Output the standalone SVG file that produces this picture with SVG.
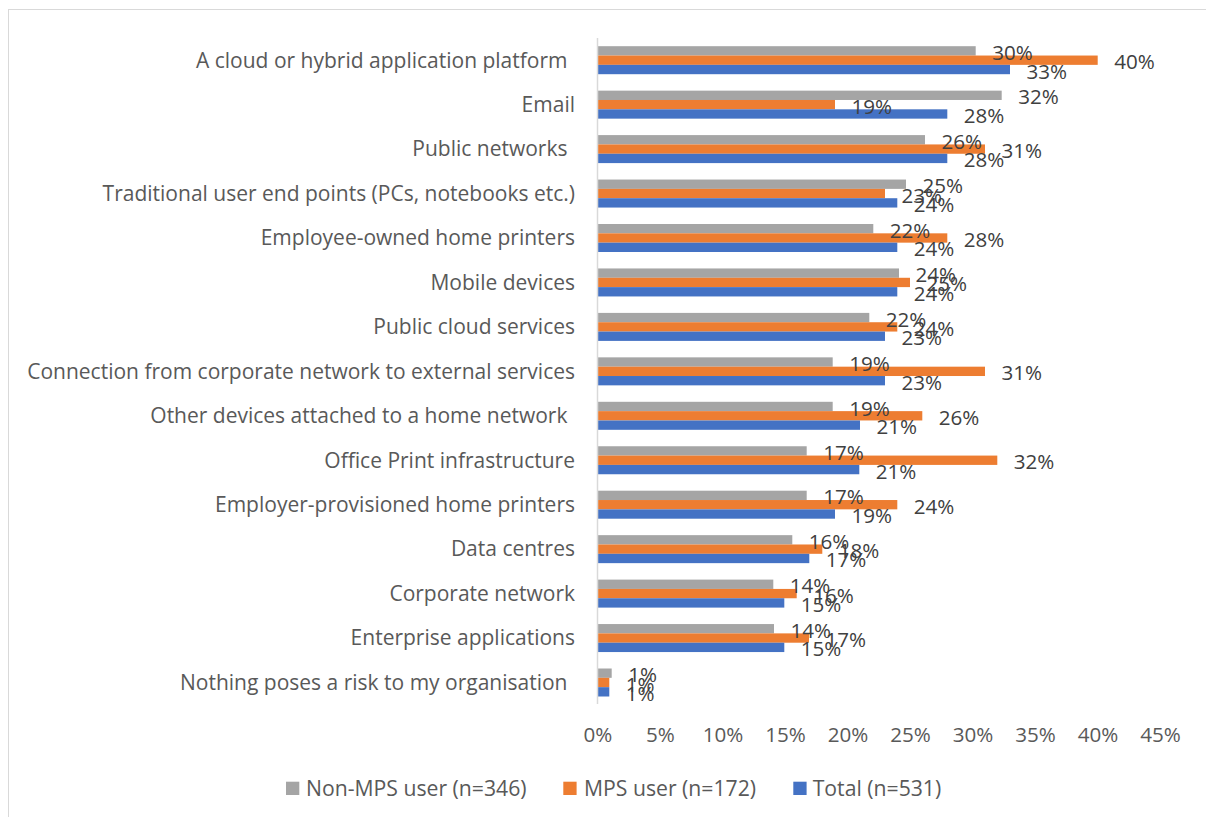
<svg xmlns="http://www.w3.org/2000/svg" width="1206" height="817" viewBox="0 0 1206 817">
<style>
text{font-family:"Open Sans","Liberation Sans",sans-serif}
.cat{font-size:21px;fill:#595959;text-anchor:end}
.tick{font-size:20.6px;fill:#595959;text-anchor:middle}
.dl{font-size:20.6px;fill:#404040}
.leg{font-size:21.2px;fill:#595959}
.g{fill:#A5A5A5}
.o{fill:#ED7D31}
.b{fill:#4472C4}
</style>
<rect x="8.5" y="9.5" width="1220" height="830" fill="#ffffff" stroke="#d9d9d9" stroke-width="1"/>
<g id="ticks">
<text class="tick" x="598" y="741.7">0%</text>
<text class="tick" x="660.5" y="741.7">5%</text>
<text class="tick" x="723" y="741.7">10%</text>
<text class="tick" x="785.5" y="741.7">15%</text>
<text class="tick" x="848" y="741.7">20%</text>
<text class="tick" x="910.5" y="741.7">25%</text>
<text class="tick" x="973" y="741.7">30%</text>
<text class="tick" x="1035.5" y="741.7">35%</text>
<text class="tick" x="1098" y="741.7">40%</text>
<text class="tick" x="1160.5" y="741.7">45%</text>
</g>
<g id="row1" transform="translate(0,60.2)">
<text class="cat" x="567.5" y="7.3">A cloud or hybrid application platform</text>
<rect class="g" x="598" y="-14" width="377.7" height="9.33"/>
<rect class="o" x="598" y="-4.67" width="499.7" height="9.33"/>
<rect class="b" x="598" y="4.67" width="412" height="9.33"/>
<text class="dl" x="992.2" y="-0.3">30%</text>
<text class="dl" x="1114.2" y="9">40%</text>
<text class="dl" x="1026.5" y="18.3">33%</text>
</g>
<g id="row2" transform="translate(0,104.65)">
<text class="cat" x="575" y="7.3">Email</text>
<rect class="g" x="598" y="-14" width="403.7" height="9.33"/>
<rect class="o" x="598" y="-4.67" width="237" height="9.33"/>
<rect class="b" x="598" y="4.67" width="349.3" height="9.33"/>
<text class="dl" x="1018.2" y="-0.3">32%</text>
<text class="dl" x="851.5" y="9">19%</text>
<text class="dl" x="963.8" y="18.3">28%</text>
</g>
<g id="row3" transform="translate(0,149.1)">
<text class="cat" x="567.5" y="7.3">Public networks</text>
<rect class="g" x="598" y="-14" width="327" height="9.33"/>
<rect class="o" x="598" y="-4.67" width="387" height="9.33"/>
<rect class="b" x="598" y="4.67" width="349.3" height="9.33"/>
<text class="dl" x="941.5" y="-0.3">26%</text>
<text class="dl" x="1001.5" y="9">31%</text>
<text class="dl" x="963.8" y="18.3">28%</text>
</g>
<g id="row4" transform="translate(0,193.55)">
<text class="cat" x="575" y="7.3">Traditional user end points (PCs, notebooks etc.)</text>
<rect class="g" x="598" y="-14" width="308" height="9.33"/>
<rect class="o" x="598" y="-4.67" width="287" height="9.33"/>
<rect class="b" x="598" y="4.67" width="299.3" height="9.33"/>
<text class="dl" x="922.5" y="-0.3">25%</text>
<text class="dl" x="901.5" y="9">23%</text>
<text class="dl" x="913.8" y="18.3">24%</text>
</g>
<g id="row5" transform="translate(0,238)">
<text class="cat" x="575" y="7.3">Employee-owned home printers</text>
<rect class="g" x="598" y="-14" width="275.3" height="9.33"/>
<rect class="o" x="598" y="-4.67" width="349.3" height="9.33"/>
<rect class="b" x="598" y="4.67" width="299.3" height="9.33"/>
<text class="dl" x="889.8" y="-0.3">22%</text>
<text class="dl" x="963.8" y="9">28%</text>
<text class="dl" x="913.8" y="18.3">24%</text>
</g>
<g id="row6" transform="translate(0,282.45)">
<text class="cat" x="575" y="7.3">Mobile devices</text>
<rect class="g" x="598" y="-14" width="301" height="9.33"/>
<rect class="o" x="598" y="-4.67" width="312" height="9.33"/>
<rect class="b" x="598" y="4.67" width="299.3" height="9.33"/>
<text class="dl" x="915.5" y="-0.3">24%</text>
<text class="dl" x="926.5" y="9">25%</text>
<text class="dl" x="913.8" y="18.3">24%</text>
</g>
<g id="row7" transform="translate(0,326.9)">
<text class="cat" x="575" y="7.3">Public cloud services</text>
<rect class="g" x="598" y="-14" width="271.3" height="9.33"/>
<rect class="o" x="598" y="-4.67" width="299.3" height="9.33"/>
<rect class="b" x="598" y="4.67" width="287" height="9.33"/>
<text class="dl" x="885.8" y="-0.3">22%</text>
<text class="dl" x="913.8" y="9">24%</text>
<text class="dl" x="901.5" y="18.3">23%</text>
</g>
<g id="row8" transform="translate(0,371.35)">
<text class="cat" x="575" y="7.3">Connection from corporate network to external services</text>
<rect class="g" x="598" y="-14" width="234.7" height="9.33"/>
<rect class="o" x="598" y="-4.67" width="387" height="9.33"/>
<rect class="b" x="598" y="4.67" width="287" height="9.33"/>
<text class="dl" x="849.2" y="-0.3">19%</text>
<text class="dl" x="1001.5" y="9">31%</text>
<text class="dl" x="901.5" y="18.3">23%</text>
</g>
<g id="row9" transform="translate(0,415.8)">
<text class="cat" x="567.5" y="7.3">Other devices attached to a home network</text>
<rect class="g" x="598" y="-14" width="234.7" height="9.33"/>
<rect class="o" x="598" y="-4.67" width="324.3" height="9.33"/>
<rect class="b" x="598" y="4.67" width="262" height="9.33"/>
<text class="dl" x="849.2" y="-0.3">19%</text>
<text class="dl" x="938.8" y="9">26%</text>
<text class="dl" x="876.5" y="18.3">21%</text>
</g>
<g id="row10" transform="translate(0,460.25)">
<text class="cat" x="575" y="7.3">Office Print infrastructure</text>
<rect class="g" x="598" y="-14" width="208.7" height="9.33"/>
<rect class="o" x="598" y="-4.67" width="399.3" height="9.33"/>
<rect class="b" x="598" y="4.67" width="261.3" height="9.33"/>
<text class="dl" x="823.2" y="-0.3">17%</text>
<text class="dl" x="1013.8" y="9">32%</text>
<text class="dl" x="875.8" y="18.3">21%</text>
</g>
<g id="row11" transform="translate(0,504.7)">
<text class="cat" x="575" y="7.3">Employer-provisioned home printers</text>
<rect class="g" x="598" y="-14" width="208.7" height="9.33"/>
<rect class="o" x="598" y="-4.67" width="299.3" height="9.33"/>
<rect class="b" x="598" y="4.67" width="237" height="9.33"/>
<text class="dl" x="823.2" y="-0.3">17%</text>
<text class="dl" x="913.8" y="9">24%</text>
<text class="dl" x="851.5" y="18.3">19%</text>
</g>
<g id="row12" transform="translate(0,549.15)">
<text class="cat" x="575" y="7.3">Data centres</text>
<rect class="g" x="598" y="-14" width="194.3" height="9.33"/>
<rect class="o" x="598" y="-4.67" width="224.3" height="9.33"/>
<rect class="b" x="598" y="4.67" width="211.3" height="9.33"/>
<text class="dl" x="808.8" y="-0.3">16%</text>
<text class="dl" x="838.8" y="9">18%</text>
<text class="dl" x="825.8" y="18.3">17%</text>
</g>
<g id="row13" transform="translate(0,593.6)">
<text class="cat" x="575" y="7.3">Corporate network</text>
<rect class="g" x="598" y="-14" width="175.3" height="9.33"/>
<rect class="o" x="598" y="-4.67" width="198.7" height="9.33"/>
<rect class="b" x="598" y="4.67" width="186.3" height="9.33"/>
<text class="dl" x="789.8" y="-0.3">14%</text>
<text class="dl" x="813.2" y="9">16%</text>
<text class="dl" x="800.8" y="18.3">15%</text>
</g>
<g id="row14" transform="translate(0,638.05)">
<text class="cat" x="575" y="7.3">Enterprise applications</text>
<rect class="g" x="598" y="-14" width="176" height="9.33"/>
<rect class="o" x="598" y="-4.67" width="211" height="9.33"/>
<rect class="b" x="598" y="4.67" width="186.3" height="9.33"/>
<text class="dl" x="790.5" y="-0.3">14%</text>
<text class="dl" x="825.5" y="9">17%</text>
<text class="dl" x="800.8" y="18.3">15%</text>
</g>
<g id="row15" transform="translate(0,682.5)">
<text class="cat" x="567.5" y="7.3">Nothing poses a risk to my organisation</text>
<rect class="g" x="598" y="-14" width="13.7" height="9.33"/>
<rect class="o" x="598" y="-4.67" width="11.3" height="9.33"/>
<rect class="b" x="598" y="4.67" width="11.3" height="9.33"/>
<text class="dl" x="628.2" y="-0.3">1%</text>
<text class="dl" x="625.8" y="9">1%</text>
<text class="dl" x="625.8" y="18.3">1%</text>
</g>
<g id="axis">
<line x1="597.5" y1="38" x2="597.5" y2="704" stroke="#d9d9d9" stroke-width="1.5"/>
</g>
<g id="legend">
<rect class="g" x="286" y="781.7" width="13.3" height="13.3"/>
<text class="leg" x="306" y="796">Non-MPS user (n=346)</text>
<rect class="o" x="563.3" y="781.7" width="13.3" height="13.3"/>
<text class="leg" x="584" y="796">MPS user (n=172)</text>
<rect class="b" x="793.3" y="781.7" width="13.3" height="13.3"/>
<text class="leg" x="812.7" y="796">Total (n=531)</text>
</g>
</svg>
